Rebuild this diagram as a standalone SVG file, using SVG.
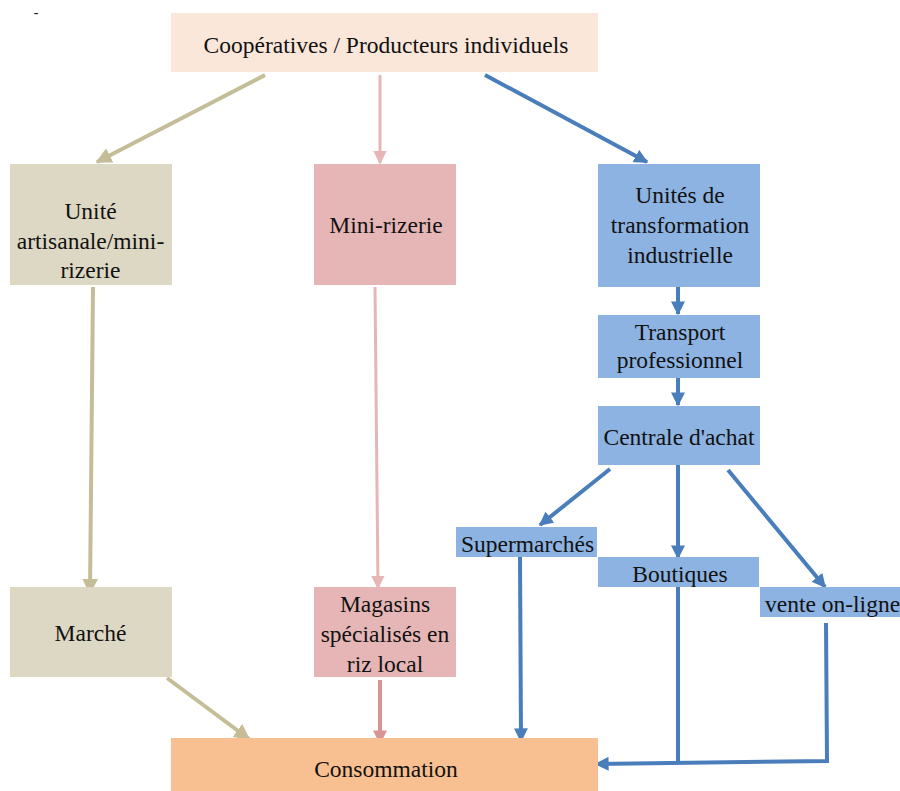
<svg xmlns="http://www.w3.org/2000/svg" width="900" height="791" viewBox="0 0 900 791">
<style>
text{font-family:'Liberation Serif','Times New Roman',serif;font-size:23.5px;fill:#111;text-anchor:middle}
.tan{stroke:#C4BD97;stroke-width:4;fill:none}
.pink{stroke:#E6B6B6;stroke-width:3;fill:none}
.dpink{stroke:#D99594;stroke-width:4;fill:none}
.blue{stroke:#4A7EBB;stroke-width:4;fill:none}
</style>
<defs>
<marker id="aTan" viewBox="0 0 10 10" refX="9" refY="5" markerWidth="4" markerHeight="4" orient="auto" markerUnits="strokeWidth"><path d="M0,0L10,5L0,10z" fill="#C4BD97"/></marker>
<marker id="aPink" viewBox="0 0 10 10" refX="9" refY="5" markerWidth="4.5" markerHeight="4.5" orient="auto" markerUnits="strokeWidth"><path d="M0,0L10,5L0,10z" fill="#E6B6B6"/></marker>
<marker id="aDPink" viewBox="0 0 10 10" refX="9" refY="5" markerWidth="3.5" markerHeight="3.5" orient="auto" markerUnits="strokeWidth"><path d="M0,0L10,5L0,10z" fill="#D99594"/></marker>
<marker id="aBlue" viewBox="0 0 10 10" refX="9" refY="5" markerWidth="3.5" markerHeight="3.5" orient="auto" markerUnits="strokeWidth"><path d="M0,0L10,5L0,10z" fill="#4A7EBB"/></marker>
</defs>
<rect width="900" height="791" fill="#fff"/>
<text x="36" y="17" style="font-size:14px">-</text>
<g id="connectors">
<line class="tan" x1="265" y1="75" x2="97" y2="162" marker-end="url(#aTan)"/>
<line class="pink" x1="380" y1="75" x2="380" y2="163" marker-end="url(#aPink)"/>
<line class="blue" x1="485" y1="75" x2="647" y2="162" marker-end="url(#aBlue)"/>
<line class="tan" x1="93" y1="287" x2="90" y2="593" marker-end="url(#aTan)"/>
<line class="pink" x1="375" y1="287" x2="378" y2="588" marker-end="url(#aPink)"/>
<line class="tan" x1="167" y1="678" x2="249" y2="739" marker-end="url(#aTan)"/>
<line class="dpink" x1="380" y1="680" x2="380" y2="743" marker-end="url(#aDPink)"/>
<line class="blue" x1="678" y1="287" x2="678" y2="314" marker-end="url(#aBlue)"/>
<line class="blue" x1="678" y1="378" x2="678" y2="405" marker-end="url(#aBlue)"/>
<line class="blue" x1="610" y1="469" x2="540" y2="525" marker-end="url(#aBlue)"/>
<line class="blue" x1="678" y1="465" x2="678" y2="558" marker-end="url(#aBlue)"/>
<line class="blue" x1="728" y1="470" x2="825" y2="587" marker-end="url(#aBlue)"/>
<line class="blue" x1="520" y1="556" x2="521" y2="741" marker-end="url(#aBlue)"/>
<line class="blue" x1="678" y1="586" x2="678" y2="762"/>
<polyline class="blue" points="826,623 827,761 596,764" marker-end="url(#aBlue)"/>
</g>
<g id="n-coop"><rect x="171" y="13" width="427" height="59" fill="#FBE7DA"/><text x="386" y="53">Coopératives / Producteurs individuels</text></g>
<g id="n-unite"><rect x="10" y="164" width="162" height="121" fill="#DDD8C3"/><text x="90.5" y="219">Unité</text><text x="90.5" y="249">artisanale/mini-</text><text x="90.5" y="278">rizerie</text></g>
<g id="n-mini"><rect x="314" y="164" width="142" height="121" fill="#E6B6B6"/><text x="386" y="233">Mini-rizerie</text></g>
<g id="n-indus"><rect x="598" y="164" width="162" height="123" fill="#8DB3E2"/><text x="680" y="203">Unités de</text><text x="680" y="233">transformation</text><text x="680" y="263">industrielle</text></g>
<g id="n-transport"><rect x="598" y="315" width="162" height="63" fill="#8DB3E2"/><text x="680" y="340">Transport</text><text x="680" y="368">professionnel</text></g>
<g id="n-centrale"><rect x="598" y="406" width="162" height="59" fill="#8DB3E2"/><text x="679" y="445">Centrale d'achat</text></g>
<g id="n-super"><rect x="456" y="527" width="141" height="30" fill="#8DB3E2"/><text x="527.5" y="552">Supermarchés</text></g>
<g id="n-boutiques"><rect x="598" y="557" width="161" height="30" fill="#8DB3E2"/><text x="680" y="582">Boutiques</text></g>
<g id="n-vente"><rect x="760" y="587" width="140" height="30" fill="#8DB3E2"/><text x="765" y="612" style="text-anchor:start">vente on-ligne</text></g>
<g id="n-marche"><rect x="10" y="587" width="162" height="90" fill="#DDD8C3"/><text x="90.5" y="641">Marché</text></g>
<g id="n-magasins"><rect x="314" y="587" width="142" height="90" fill="#E6B6B6"/><text x="385" y="612">Magasins</text><text x="385" y="642">spécialisés en</text><text x="385" y="672">riz local</text></g>
<g id="n-conso"><rect x="171" y="738" width="427" height="53" fill="#F8C090"/><text x="386" y="777">Consommation</text></g>
</svg>
